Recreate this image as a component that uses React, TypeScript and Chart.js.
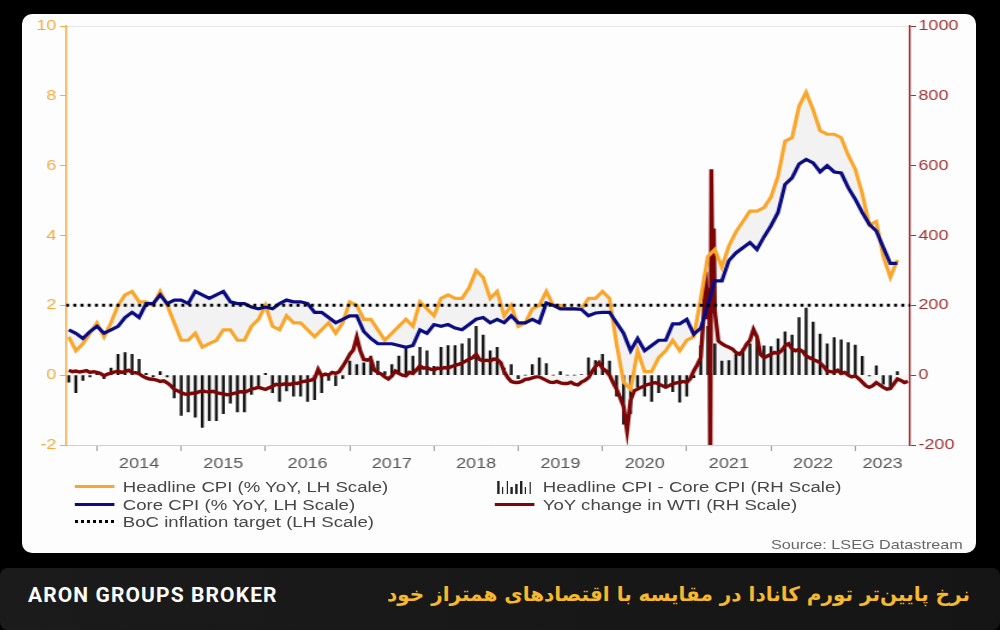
import React, { useEffect, useRef } from "react";
import { Chart, registerables } from "chart.js";

Chart.register(...registerables);

// ---- data (monthly series start Sep 2013 = index 0) ----
const YEARS = ["2014", "2015", "2016", "2017", "2018", "2019", "2020", "2021", "2022", "2023"];

const HEADLINE = [
  1.1, 0.7, 0.9, 1.2,
  1.5, 1.1, 1.5, 2.0, 2.3, 2.4, 2.1, 2.1, 2.0, 2.4, 2.0, 1.5,
  1.0, 1.0, 1.2, 0.8, 0.9, 1.0, 1.3, 1.3, 1.0, 1.0, 1.4, 1.6,
  2.0, 1.4, 1.3, 1.7, 1.5, 1.5, 1.3, 1.1, 1.3, 1.5, 1.2, 1.5,
  2.1, 2.0, 1.6, 1.6, 1.3, 1.0, 1.2, 1.4, 1.6, 1.4, 2.1, 1.9,
  1.7, 2.2, 2.3, 2.2, 2.2, 2.5, 3.0, 2.8, 2.2, 2.4, 1.7, 2.0,
  1.4, 1.5, 1.9, 2.0, 2.4, 2.0, 2.0, 1.9, 1.9, 1.9, 2.2, 2.2,
  2.4, 2.2, 0.9, -0.2, -0.4, 0.7, 0.1, 0.1, 0.5, 0.7, 1.0, 0.7,
  1.0, 1.1, 2.2, 3.4, 3.6, 3.1, 3.7, 4.1, 4.4, 4.7, 4.7, 4.8,
  5.1, 5.7, 6.7, 6.8, 7.7, 8.1, 7.6, 7.0, 6.9, 6.9, 6.8, 6.3,
  5.9, 5.2, 4.3, 4.4, 3.4, 2.8, 3.3,
];

const CORE = [
  1.3, 1.2, 1.05, 1.25,
  1.4, 1.2, 1.3, 1.4, 1.65, 1.8, 1.65, 2.05, 2.05, 2.3, 2.05, 2.15,
  2.15, 2.05, 2.4, 2.3, 2.2, 2.3, 2.4, 2.1, 2.05, 2.05, 1.95, 1.9,
  1.95, 1.9, 2.05, 2.15, 2.1, 2.1, 2.05, 1.8, 1.8, 1.65, 1.5, 1.6,
  1.7, 1.7, 1.25, 1.05, 0.9, 0.9, 0.9, 0.85, 0.8, 0.85, 1.3, 1.2,
  1.45, 1.4, 1.45, 1.35, 1.3, 1.45, 1.6, 1.65, 1.5, 1.6, 1.5, 1.7,
  1.5, 1.5, 1.6, 1.5, 2.07, 2.0, 1.9, 1.9, 1.9, 1.88, 1.7, 1.78,
  1.8, 1.8, 1.5, 1.2, 0.7, 1.05, 0.7, 0.85, 1.0, 1.0, 1.47, 1.47,
  1.6, 1.17, 1.35, 2.0, 2.7, 2.7, 3.28, 3.5, 3.65, 3.8, 3.6, 3.96,
  4.28, 4.66, 5.46, 5.65, 6.05, 6.18, 6.08, 5.82, 6.0, 5.82, 5.79, 5.37,
  5.04, 4.66, 4.32, 4.13, 3.66, 3.2, 3.2,
];

// WTI YoY change, semi-monthly (two readings per month)
const WTI_HALF = [
  14, 10, 12, 9, 11, 13, 8, 10,
  8, 5, -2, 3, 6, 9, 12, 8, 10, 14, 8, 7, 4, -3, -8, -11,
  -12, -14, -18, -16, -22, -30, -40, -45,
  -50, -54, -55, -52, -52, -48, -45, -47, -48, -46, -50, -52, -54, -56, -55, -52,
  -50, -47, -50, -45, -40, -38, -35, -38,
  -41, -36, -32, -26, -28, -26, -24, -27, -22, -24, -20, -18, -16, -14, -10, 17,
  -2, 3, 0, 8, 5, 10, 25, 41,
  60, 72, 109, 70, 45, 43, 47, 14, 8, 3, -5, -11, -2, 12, 5, 0, -2, 8, 5, 15, 27, 20, 22, 17,
  15, 20, 18, 22, 20, 25, 28, 31, 35, 40, 46, 50, 60, 45, 41, 43, 40, 46, 45, 36, 10, -7, -18, -21,
  -21, -18, -12, -11, -8, -5, -5, -10, -15, -20, -21, -18, -22, -24, -24, -20, -26, -28, -20, -15, -7, 10, 25, 36,
  20, 12, 0, -21, -40, -64, -90, -160, -72, -45, -40, -35, -30, -26, -24, -21, -25, -30, -35, -30, -25, -22, -21, -18,
  -21, -10, 12, 30, 50, 200, 160, 590, 183, 98, 90, 84, 80, 75, 65, 60, 70, 88, 100, 131, 110, 60, 50, 55,
  60, 65, 62, 70, 84, 90, 75, 70, 74, 68, 55, 50, 45, 41, 35, 25, 12, 10, 8, 14, 5, 8, 0, -5,
  -2, -10, -20, -30, -35, -30, -21, -28, -35, -40, -38, -25, -11, -15, -21, -18,
];
// extra daily readings around the April 2021 base-effect spike
const WTI_SPIKE_X = [90.7, 91.2, 91.35, 91.7, 91.85];
const WTI_SPIKE_Y = [297, 250, -330, 250, 420];

const BOC_TARGET = 2;
const LEFT_TICKS = [-2, 0, 2, 4, 6, 8, 10];
const RIGHT_TICKS = [-200, 0, 200, 400, 600, 800, 1000];

const FIRST_JAN = 4; // index of Jan 2014
const X_MIN = -0.4;
const X_MAX = 119.8;

const FONT = "'Liberation Sans', Arial, Helvetica, sans-serif";
const ORANGE = "#F9A62B";
const NAVY = "#0C0C82";
const WTI_RED = "#7D0606";
const AXIS_ORANGE = "#F7AA3A";
const AXIS_RED = "#9C3232";

const S = 1.2; // horizontal stretch of the source picture

export default function App() {
  const ref = useRef<HTMLCanvasElement | null>(null);

  useEffect(() => {
    if (!ref.current) return;
    const headlinePts = HEADLINE.map((v, i) => ({ x: i, y: v }));
    const corePts = CORE.map((v, i) => ({ x: i, y: v }));
    const diffPts = HEADLINE.map((v, i) => ({ x: i, y: Math.round((v - CORE[i]) * 100) }));
    const wtiPts = [
      ...WTI_HALF.map((v, k) => ({ x: k / 2, y: v })),
      ...WTI_SPIKE_X.map((x, i) => ({ x, y: WTI_SPIKE_Y[i] })),
    ].sort((a, b) => a.x - b.x);
    const targetPts = [
      { x: X_MIN, y: BOC_TARGET },
      { x: X_MAX, y: BOC_TARGET },
    ];

    const chart = new Chart(ref.current, {
      type: "line",
      data: {
        datasets: [
          {
            label: "BoC inflation target (LH Scale)",
            data: targetPts,
            yAxisID: "y",
            xAxisID: "x",
            borderColor: "#000",
            borderWidth: 3,
            borderDash: [2.6, 3.4],
            borderCapStyle: "butt",
            pointRadius: 0,
            order: 0,
          },
          {
            label: "Core CPI (% YoY, LH Scale)",
            data: corePts,
            yAxisID: "y",
            xAxisID: "x",
            borderColor: NAVY,
            borderWidth: 3.2,
            pointRadius: 0,
            tension: 0,
            order: 1,
          },
          {
            label: "Headline CPI (% YoY, LH Scale)",
            data: headlinePts,
            yAxisID: "y",
            xAxisID: "x",
            borderColor: ORANGE,
            borderWidth: 3.2,
            pointRadius: 0,
            tension: 0,
            fill: { target: 1 },
            backgroundColor: "rgba(0,0,0,0.045)",
            order: 2,
          },
          {
            label: "YoY change in WTI (RH Scale)",
            data: wtiPts,
            yAxisID: "y2",
            xAxisID: "x",
            borderColor: WTI_RED,
            borderWidth: 3.4,
            pointRadius: 0,
            tension: 0,
            fill: "origin",
            backgroundColor: "rgba(0,0,0,0.035)",
            order: 3,
          },
          {
            type: "bar",
            label: "Headline CPI - Core CPI (RH Scale)",
            data: diffPts,
            yAxisID: "y2",
            xAxisID: "x",
            backgroundColor: "#161616",
            barThickness: 1.8,
            grouped: false,
            order: 4,
          } as any,
        ],
      },
      options: {
        responsive: false,
        animation: false,
        events: [],
        layout: { padding: { top: 10, left: 0, right: 0, bottom: 0 } },
        plugins: { legend: { display: false }, tooltip: { enabled: false } },
        scales: {
          x: {
            type: "linear",
            position: "bottom",
            min: X_MIN,
            max: X_MAX,
            offset: false,
            weight: 0,
            afterBuildTicks: (s: any) => {
              s.ticks = YEARS.map((_, i) => ({ value: FIRST_JAN + 12 * i }));
            },
            ticks: { display: false },
            grid: {
              display: true,
              offset: false,
              drawOnChartArea: false,
              drawTicks: true,
              tickLength: 6,
              color: "#9a9a9a",
            },
            border: { display: true, color: "#cfcfcf", width: 1 },
            afterFit: (s: any) => {
              s.height = 7;
            },
          },
          xl: {
            type: "linear",
            position: "bottom",
            min: X_MIN,
            max: X_MAX,
            offset: false,
            weight: 1,
            afterBuildTicks: (s: any) => {
              s.ticks = YEARS.map((_, i) => ({
                value:
                  i < YEARS.length - 1
                    ? FIRST_JAN + 12 * i + 6
                    : (FIRST_JAN + 12 * i + X_MAX) / 2,
              }));
            },
            ticks: {
              autoSkip: false,
              maxRotation: 0,
              padding: 3,
              color: "#555",
              font: { size: 15, family: FONT },
              callback: (_v: any, i: number) => YEARS[i],
            },
            grid: { display: false, drawTicks: false, offset: false },
            border: { display: false },
            afterFit: (s: any) => {
              s.height = 19;
            },
          },
          y: {
            type: "linear",
            position: "left",
            min: -2,
            max: 10,
            afterBuildTicks: (s: any) => {
              s.ticks = LEFT_TICKS.map((v) => ({ value: v }));
            },
            ticks: {
              color: AXIS_ORANGE,
              font: { size: 15, family: FONT },
              padding: 3,
              callback: (v: any) => String(v),
            },
            grid: {
              drawOnChartArea: true,
              drawTicks: true,
              tickLength: 5,
              color: (c: any) => (c.tick && c.tick.value === 10 ? "#e6e6e6" : "rgba(0,0,0,0)"),
              tickColor: AXIS_ORANGE,
            },
            border: { color: AXIS_ORANGE, width: 1.5 },
            afterFit: (s: any) => {
              s.width = 36.7;
            },
          },
          y2: {
            type: "linear",
            position: "right",
            min: -200,
            max: 1000,
            afterBuildTicks: (s: any) => {
              s.ticks = RIGHT_TICKS.map((v) => ({ value: v }));
            },
            ticks: {
              color: AXIS_RED,
              font: { size: 15, family: FONT },
              padding: 2,
              callback: (v: any) => String(v),
            },
            grid: {
              drawOnChartArea: false,
              drawTicks: true,
              tickLength: 5,
              color: AXIS_RED,
              tickColor: AXIS_RED,
            },
            border: { color: AXIS_RED, width: 1.5 },
            afterFit: (s: any) => {
              s.width = 55;
            },
          },
        },
      } as any,
    });
    return () => chart.destroy();
  }, []);

  const legendText: React.CSSProperties = {
    position: "absolute",
    fontFamily: FONT,
    fontSize: 15.5,
    color: "#474747",
    whiteSpace: "nowrap",
    lineHeight: "18px",
  };
  const lineIcon = (color: string, left: number, top: number): React.CSSProperties => ({
    position: "absolute",
    left,
    top,
    width: 33,
    height: 3,
    background: color,
  });
  const barHeights = [13, 7, 13, 7, 10, 13, 7, 12];

  return (
    <div
      style={{
        position: "fixed",
        left: 0,
        top: 0,
        width: 1000,
        height: 630,
        background: "#000",
        overflow: "hidden",
      }}
    >
      <div
        style={{
          position: "absolute",
          left: 22,
          top: 14,
          width: 954,
          height: 539,
          background: "#fdfdfd",
          borderRadius: 10,
        }}
      />
      <div
        style={{
          position: "absolute",
          left: 22,
          top: 14,
          width: 795,
          height: 539,
          transform: `scaleX(${S})`,
          transformOrigin: "0 0",
        }}
      >
        <canvas
          ref={ref}
          width={795}
          height={457}
          style={{ position: "absolute", left: 0, top: 0, width: 795, height: 457 }}
        />
        {/* legend column 1 */}
        <div style={lineIcon(ORANGE, 44, 471)} />
        <div style={{ ...legendText, left: 84, top: 464 }}>Headline CPI (% YoY, LH Scale)</div>
        <div style={lineIcon(NAVY, 44, 489)} />
        <div style={{ ...legendText, left: 84, top: 482 }}>Core CPI (% YoY, LH Scale)</div>
        <div
          style={{
            position: "absolute",
            left: 44,
            top: 506,
            width: 33,
            height: 3,
            backgroundImage: "repeating-linear-gradient(90deg, #000 0 2.6px, transparent 2.6px 5px)",
          }}
        />
        <div style={{ ...legendText, left: 84, top: 499 }}>BoC inflation target (LH Scale)</div>
        {/* legend column 2 */}
        <div style={{ position: "absolute", left: 396, top: 466, width: 30, height: 14 }}>
          {barHeights.map((h, i) => (
            <div
              key={i}
              style={{
                position: "absolute",
                left: i * 3.8,
                bottom: 0,
                width: 1.6,
                height: h,
                background: "#222",
              }}
            />
          ))}
        </div>
        <div style={{ ...legendText, left: 434, top: 464 }}>Headline CPI - Core CPI (RH Scale)</div>
        <div style={lineIcon(WTI_RED, 394, 489)} />
        <div style={{ ...legendText, left: 434, top: 482 }}>YoY change in WTI (RH Scale)</div>
        <div
          style={{
            position: "absolute",
            right: 11,
            top: 522,
            fontFamily: FONT,
            fontSize: 13.5,
            color: "#666",
            whiteSpace: "nowrap",
            lineHeight: "18px",
          }}
        >
          Source: LSEG Datastream
        </div>
      </div>

      {/* bottom banner */}
      <div
        style={{
          position: "absolute",
          left: 0,
          top: 568,
          width: 1000,
          height: 62,
          background: "linear-gradient(90deg, #1b1b1b, #151515)",
          borderRadius: 8,
        }}
      />
      <div
        style={{
          position: "absolute",
          left: 28,
          top: 582,
          fontFamily: "Roboto, 'Liberation Sans', sans-serif",
          fontWeight: 700,
          fontSize: 21,
          letterSpacing: 1.1,
          color: "#fff",
          whiteSpace: "nowrap",
          lineHeight: "26px",
        }}
      >
        ARON GROUPS BROKER
      </div>
      <div
        dir="rtl"
        style={{
          position: "absolute",
          right: 30,
          top: 580,
          fontFamily: "'DejaVu Sans', sans-serif",
          fontWeight: 700,
          fontSize: 20,
          color: "#F5B82E",
          whiteSpace: "nowrap",
          lineHeight: "28px",
        }}
      >
        نرخ پایین‌تر تورم کانادا در مقایسه با اقتصادهای همتراز خود
      </div>
    </div>
  );
}
